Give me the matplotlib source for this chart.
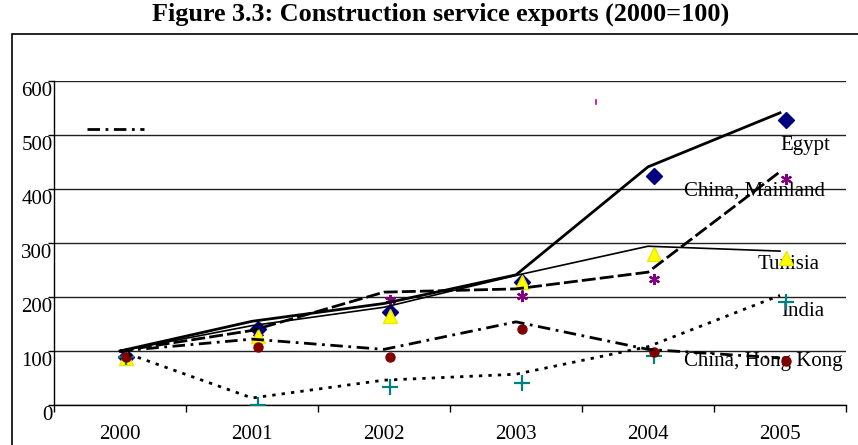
import matplotlib
matplotlib.use("Agg")
import matplotlib.pyplot as plt
import matplotlib.transforms as mtransforms
from matplotlib.patches import Rectangle

plt.rcParams['font.family'] = ['Liberation Serif', 'DejaVu Serif']

years = ["2000", "2001", "2002", "2003", "2004", "2005"]

# index lines (2000=100)
egypt_line = [100, 155, 188, 241, 441, 541]
mainland_line = [100, 138, 209, 215, 246, 432]
tunisia_line = [100, 147, 181, 240, 294, 285]
india_line = [100, 13, 46, 57, 108, 203]
hongkong_line = [100, 122, 103, 154, 103, 87]

# point values
egypt_pts = [88, 140, 173, 228, 424, 528]
mainland_pts = [89, 126, 195, 201, 233, 419]
tunisia_pts = [87, 128, 164, 228, 280, 272]
india_pts = [88, 0, 33, 41, 90, 190]
hongkong_pts = [88, 108, 88, 140, 99, 82]

series_names = ["Egypt", "China, Mainland", "Tunisia", "India", "China, Hong Kong"]
name_pos = [(5.0, 481), (4.27, 396), (4.83, 261), (5.01, 174), (4.27, 80)]

fig = plt.figure(figsize=(8.58, 4.45), dpi=100)
ax = fig.add_axes([54 / 858, 1 - 405 / 445, 792 / 858, 324 / 445])

x = list(range(len(years)))
xm = [i + 0.045 for i in x]

# series labels sit underneath the lines
for name, (tx, ty) in zip(series_names, name_pos):
    ax.text(tx, ty, name, fontsize=15, va="center", ha="left", zorder=1)

ax.plot(xm, egypt_pts, ls="none", marker="D", ms=8, color="#000080", zorder=3)
ax.plot(xm, mainland_pts, ls="none", marker=(6, 2, 0), ms=8, mew=1.6,
        color="#800080", zorder=3)
ax.plot(xm, tunisia_pts, ls="none", marker="^", ms=9.5, color="#FFFF00",
        mec="#e8e800", zorder=3)
ax.plot(xm, india_pts, ls="none", marker="+", ms=12, mew=1.6, color="#008080", zorder=3)
ax.plot(xm, hongkong_pts, ls="none", marker="o", ms=6.5, color="#800000", zorder=3)

ax.plot(x, egypt_line, color="black", lw=2.0, zorder=4)
ax.plot(x, mainland_line, color="black", lw=2.0, dashes=(5, 1.5), zorder=4)
ax.plot(x, tunisia_line, color="black", lw=1.2, zorder=4)
ax.plot(x, india_line, color="black", lw=2.0, dashes=(1.2, 2.2), zorder=4)
ax.plot(x, hongkong_line, color="black", lw=2.0, dashes=(4.5, 2, 1, 2), zorder=4)

# stray legend fragments
ax.plot([0.042, 0.114], [0.852, 0.852], transform=ax.transAxes, color="black",
        lw=2.0, dashes=(4.5, 2, 1, 2), clip_on=False)
ax.plot([0.684, 0.684], [0.929, 0.941], transform=ax.transAxes, color="#b000b0",
        lw=1.2, clip_on=False)

ax.set_xlim(-0.5, 5.5)
ax.set_ylim(0, 600)
ax.set_yticks(range(0, 601, 100))
ax.yaxis.grid(True, color="#222222", lw=1.0)
ax.set_axisbelow(True)

ax.set_xticks(x, years)
ax.set_xticks([i - 0.5 for i in range(7)], minor=True)
ax.tick_params(axis="x", which="major", length=0, pad=14.5, labelsize=15)
ax.tick_params(axis="x", which="minor", length=5, width=1.0, direction="out")
ax.tick_params(axis="y", length=4, width=1.0, direction="out", pad=-3, labelsize=15)

offset = mtransforms.ScaledTranslation(0, -8 / 100, fig.dpi_scale_trans)
for lab in ax.get_yticklabels():
    lab.set_transform(lab.get_transform() + offset)

for side in ("top", "right"):
    ax.spines[side].set_visible(False)
ax.spines["left"].set_linewidth(1.0)
ax.spines["bottom"].set_linewidth(1.0)

fig.text(441 / 858, 1 - 14 / 445, "Figure 3.3: Construction service exports (2000=100)",
         ha="center", va="center", fontsize=18.8, fontweight="bold")

fig.patches.append(Rectangle((12 / 858, -0.1), 1.2, 1.1 - 34 / 445,
                             transform=fig.transFigure, fill=False,
                             edgecolor="black", lw=1.2))

fig.savefig("out.png", dpi=100)
